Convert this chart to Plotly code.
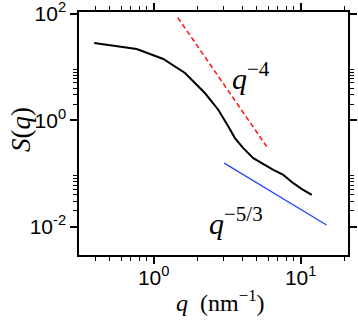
import plotly.graph_objects as go

# measured structure factor
q = [0.394, 0.766, 1.162, 1.396, 1.633, 2.23, 2.75, 3.22, 3.57, 4.07,
     4.76, 6.52, 7.62, 8.91, 10.2, 11.9]
S = [28.1, 21.7, 14.1, 10.2, 7.67, 3.23, 1.57, 0.762, 0.461, 0.299,
     0.194, 0.117, 0.094, 0.0658, 0.0507, 0.0396]

# guide lines (end points)
q_p4 = [1.46, 5.87]
S_p4 = [84, 0.32]
q_p53 = [3.02, 15.0]
S_p53 = [0.156, 0.0108]

y_major = [0.01, 1, 100]
y_major_text = ['10<sup>-2</sup>', '10<sup>0</sup>', '10<sup>2</sup>']
y_minor = [k * 0.01 for k in range(2, 10)] + [k * 1 for k in range(2, 10)]
x_major = [1, 10]
x_major_text = ['10<sup>0</sup>', '10<sup>1</sup>']
x_minor = [k * 0.1 for k in range(4, 10)] + [k for k in range(2, 10)] + [20]

fig = go.Figure()

fig.add_trace(go.Scatter(x=q, y=S, mode='lines',
                         line=dict(color='black', width=2), showlegend=False))
fig.add_trace(go.Scatter(x=q_p4, y=S_p4, mode='lines',
                         line=dict(color='#ff1010', width=1.5, dash='5px,3px'),
                         showlegend=False))
fig.add_trace(go.Scatter(x=q_p53, y=S_p53, mode='lines',
                         line=dict(color='#2244ff', width=1.3), showlegend=False))

W, H = 358, 325
L, R, T, B = 79, 10, 12, 70
pw, ph = W - L - R, H - T - B


def px(x, y):
    return (x - L) / pw, 1 - (y - T) / ph


serif = 'Liberation Serif'
labels = [
    ('<i>q</i><sup>−4</sup>', 251, 55, 30, 0),
    ('<i>q</i><sup>−5/3</sup>', 236, 242, 30, 0),
    ('<i>S</i>(<i>q</i>)', 4, 130, 27, -90),
    ('<i>q</i>  (nm<sup>−1</sup>)', 220, 318, 24, 0),
]
for txt, x, y, size, ang in labels:
    xp, yp = px(x, y)
    fig.add_annotation(x=xp, y=yp, xref='paper', yref='paper', text=txt,
                       showarrow=False, textangle=ang,
                       font=dict(family=serif, size=size, color='black'))

axis_common = dict(
    showgrid=False, zeroline=False, showline=True, linecolor='black', linewidth=1.5,
    mirror='ticks', ticks='outside', ticklen=7, tickwidth=1.5, tickcolor='black',
    tickfont=dict(family='Liberation Sans', size=21, color='black'),
    automargin=False, ticklabeloverflow='allow',
)

fig.update_layout(
    width=W, height=H,
    margin=dict(l=L, r=R, t=T, b=B, pad=0),
    plot_bgcolor='white', paper_bgcolor='white',
    xaxis=dict(type='log', range=[-0.508, 1.322], tickmode='array',
               tickvals=x_major, ticktext=x_major_text, ticklabelstandoff=-4,
               minor=dict(tickmode='array', tickvals=x_minor, ticks='outside',
                          ticklen=4, tickwidth=1.2, tickcolor='black'),
               **axis_common),
    yaxis=dict(type='log', range=[-2.53, 2.03], tickmode='array',
               tickvals=y_major, ticktext=y_major_text,
               minor=dict(tickmode='array', tickvals=y_minor, ticks='outside',
                          ticklen=4, tickwidth=1.2, tickcolor='black'),
               **axis_common),
)

fig.write_html('out.html', config={'displayModeBar': False},
               post_script="document.body.style.margin='0';")
